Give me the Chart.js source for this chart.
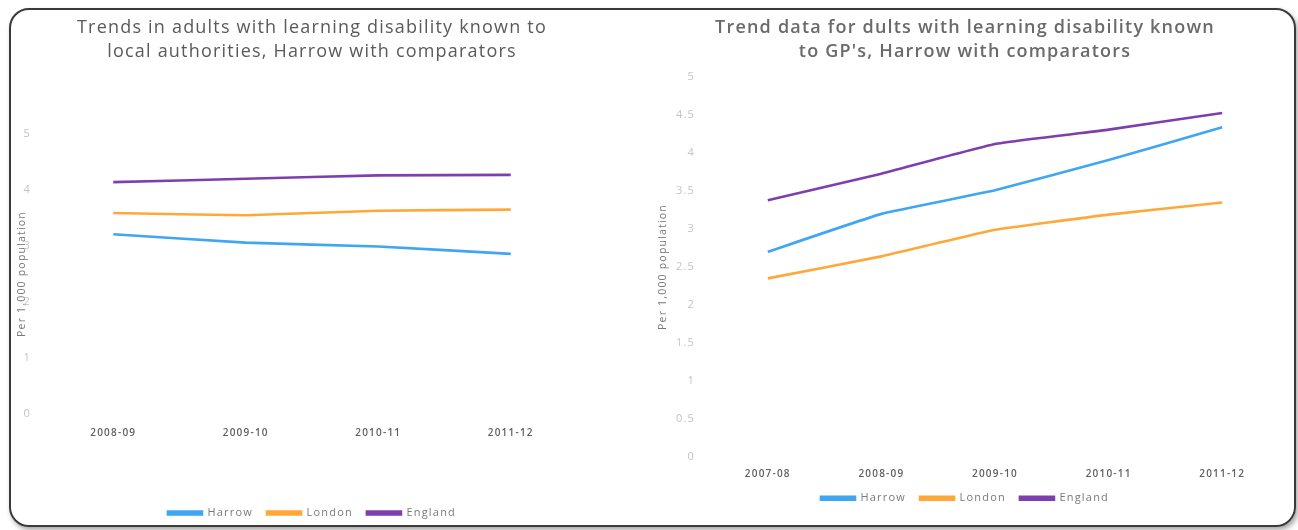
<!DOCTYPE html>
<html>
<head>
<meta charset="utf-8">
<script src="https://cdn.jsdelivr.net/npm/chart.js@4"></script>
<style>
  body { margin: 0; background: #fff; width: 1298px; height: 530px; overflow: hidden; position: relative; }
  .frame {
    position: absolute; left: 9px; top: 8px; width: 1283px; height: 515px;
    border: 2px solid #3a3a3a; border-radius: 20px;
    box-shadow: 2px 3px 5px rgba(0,0,0,0.35);
  }
  canvas { position: absolute; top: 0; }
  #left { left: 0; }
  #right { left: 640px; }
</style>
</head>
<body>
<div class="frame"></div>
<canvas id="left" width="640" height="530"></canvas>
<canvas id="right" width="650" height="530"></canvas>
<script>
// left chart - known to local authorities
const laYears = ['2008-09', '2009-10', '2010-11', '2011-12'];
const laHarrow = [3.21, 3.06, 2.99, 2.86];
const laLondon = [3.59, 3.55, 3.63, 3.65];
const laEngland = [4.14, 4.20, 4.26, 4.27];

// right chart - known to GP's
const gpYears = ['2007-08', '2008-09', '2009-10', '2010-11', '2011-12'];
const gpHarrow = [2.70, 3.20, 3.51, 3.91, 4.34];
const gpLondon = [2.35, 2.64, 2.99, 3.19, 3.35];
const gpEngland = [3.38, 3.73, 4.12, 4.31, 4.53];

const seriesNames = ['Harrow', 'London', 'England'];
const seriesColors = ['#3fa6f2', '#ffa83a', '#7e3fae'];

const font = 'Open Sans';

// the original text is drawn a bit spread out
const spacing = {
    id: 'spacing',
    beforeLayout: chart => { chart.ctx.letterSpacing = '1.2px'; },
    beforeDraw: chart => { chart.ctx.letterSpacing = '1.2px'; }
};

function makeDatasets(values) {
    return values.map((v, i) => ({
        label: seriesNames[i],
        data: v,
        borderColor: seriesColors[i],
        backgroundColor: seriesColors[i],
        borderWidth: 2.6,
        pointRadius: 0,
        tension: 0.1,
        fill: false
    }));
}

function drawChart(ctx, labels, values, title, o) {
    new Chart(ctx, {
        type: 'line',
        data: {
            labels: labels,
            datasets: makeDatasets(values)
        },
        plugins: [spacing],
        options: {
            responsive: false,
            animation: false,
            layout: { padding: o.padding },
            plugins: {
                title: {
                    display: true,
                    text: title,
                    fullSize: o.fullSize,
                    color: o.titleColor,
                    font: { family: font, size: 18, weight: o.titleWeight, lineHeight: 1.33 },
                    padding: { top: 16, bottom: o.titleBottom }
                },
                legend: {
                    position: 'bottom',
                    fullSize: o.fullSize,
                    labels: {
                        boxWidth: 34,
                        boxHeight: 3,
                        padding: 14,
                        color: '#7a7a7a',
                        font: { family: font, size: 11 }
                    }
                },
                tooltip: { enabled: false }
            },
            scales: {
                x: {
                    offset: true,
                    grid: { display: false, drawTicks: false },
                    border: { display: false },
                    ticks: {
                        padding: o.xPad,
                        color: '#606060',
                        font: { family: font, size: 10, weight: 600 }
                    },
                    afterFit: s => { s.height = o.xHeight; }
                },
                y: {
                    min: 0,
                    max: 5,
                    grid: { display: false, drawTicks: false },
                    border: { display: false },
                    ticks: {
                        stepSize: o.step,
                        padding: 16,
                        color: '#c4c4c4',
                        font: { family: font, size: 11 },
                        callback: v => String(v)
                    },
                    title: {
                        display: true,
                        text: 'Per 1,000 population',
                        color: '#777',
                        font: { family: font, size: 10.5 },
                        padding: { top: 6, bottom: 0 }
                    },
                    afterFit: s => { s.width = o.yWidth; }
                }
            }
        }
    });
}

drawChart(document.getElementById('left'), laYears, [laHarrow, laLondon, laEngland],
    ['Trends in adults with learning disability known to', 'local authorities, Harrow with comparators'],
    { padding: { left: 10, right: 63, top: 0, bottom: 1.5 }, fullSize: false, titleWeight: 400,
      titleColor: '#5a5a5a', titleBottom: 70.1, xPad: 13, xHeight: 79.5, yWidth: 37, step: 1 });

drawChart(document.getElementById('right'), gpYears, [gpHarrow, gpLondon, gpEngland],
    ['Trend data for dults with learning disability known', "to GP's, Harrow with comparators"],
    { padding: { left: 11, right: 11, top: 0, bottom: 16.3 }, fullSize: true, titleWeight: 600,
      titleColor: '#6a6a6a', titleBottom: 13.4, xPad: 11, xHeight: 22, yWidth: 60, step: 0.5 });
</script>
</body>
</html>
